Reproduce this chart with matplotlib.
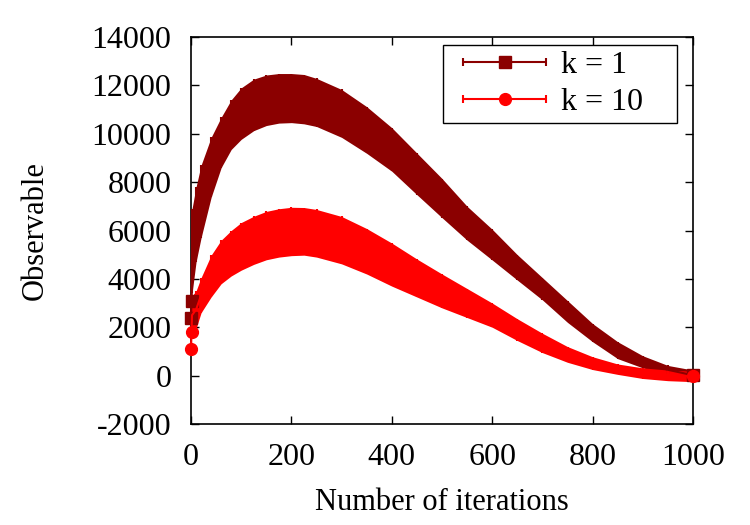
import matplotlib
matplotlib.use("Agg")
import matplotlib.pyplot as plt
import numpy as np
from matplotlib.container import ErrorbarContainer
from matplotlib.legend_handler import HandlerErrorbar

plt.rcParams['font.family'] = ['Liberation Serif', 'DejaVu Serif']
plt.rcParams['axes.unicode_minus'] = False

iters = [0, 1, 2, 10, 20, 40, 60, 80, 100, 125, 150, 175, 200, 225, 250, 300,
         350, 400, 450, 500, 550, 600, 650, 700, 750, 800, 850, 900, 950, 1000]

# k = 1 : lower / upper edge of the error band
k1_lo = [2100, 2900, 3400, 4700, 5700, 7370, 8600, 9350, 9770, 10130, 10340, 10440,
         10460, 10410, 10300, 9850, 9190, 8450, 7480, 6530, 5600, 4780, 3950,
         3130, 2200, 1400, 700, 320, 60, -200]
k1_hi = [2700, 3300, 6900, 7800, 8700, 9850, 10680, 11400, 11900, 12260, 12430, 12490,
         12490, 12450, 12290, 11830, 11120, 10250, 9200, 8150, 7000, 6050, 5000,
         4050, 3100, 2150, 1400, 820, 420, 230]

# k = 10
k10_lo = [800, 1600, 1700, 1950, 2600, 3250, 3800, 4120, 4360, 4600, 4790, 4900,
          4960, 4980, 4900, 4620, 4200, 3700, 3250, 2800, 2400, 2000, 1450,
          950, 550, 250, 50, -120, -210, -250]
k10_hi = [1400, 2000, 3300, 3500, 4050, 4980, 5600, 6000, 6330, 6590, 6790, 6900,
          6960, 6950, 6870, 6580, 6080, 5480, 4820, 4200, 3600, 3000, 2350,
          1750, 1200, 780, 480, 320, 230, 180]

series = [("k = 1", k1_lo, k1_hi, "#8b0000", "s"),
          ("k = 10", k10_lo, k10_hi, "#ff0000", "o")]

fig = plt.figure(figsize=(7.5, 5.25), dpi=100)
ax = fig.add_axes([0.2547, 0.1924, 0.6693, 0.7371])

x = np.array(iters)
handles = []
for label, lo, hi, col, mk in series:
    lo = np.array(lo)
    hi = np.array(hi)
    mean = (lo + hi) / 2
    err = (hi - lo) / 2
    ax.fill_between(x, lo, hi, color=col, lw=0, zorder=2)
    ax.errorbar(x, mean, yerr=err, color=col, marker=mk, ms=8.5, lw=1.5,
                markevery=[0, 1, len(x) - 1], capsize=0, clip_on=False, zorder=3)
    # proxy for gnuplot-like legend sample
    h = ax.errorbar([np.nan], [np.nan], xerr=[1], color=col, marker=mk, ms=8.5,
                    ls='none', elinewidth=1.5, capsize=3, capthick=1.5, label=label)
    handles.append(h)

ax.set_xlim(0, 1000)
ax.set_ylim(-2000, 14000)
ax.set_xticks(range(0, 1001, 200))
ax.set_yticks(range(-2000, 14001, 2000))
ax.tick_params(direction='in', length=6, width=1, labelsize=23, pad=14,
               top=True, right=True)
for s in ax.spines.values():
    s.set_linewidth(1.2)

ax.set_xlabel("Number of iterations", fontsize=22, labelpad=11)
ax.set_ylabel("Observable", fontsize=22, labelpad=30)

leg = ax.legend(handles=handles, loc='upper left',
                bbox_to_anchor=(0.502, 0.791, 0.466, 0.188), mode='expand',
                borderaxespad=0, fontsize=23, handlelength=3.5, handletextpad=0,
                borderpad=0.18, labelspacing=0.24, fancybox=False, framealpha=1,
                edgecolor='black',
                handler_map={ErrorbarContainer: HandlerErrorbar(xerr_size=1.3)})
leg.get_frame().set_linewidth(1.0)

fig.savefig("out.png", dpi=100)
